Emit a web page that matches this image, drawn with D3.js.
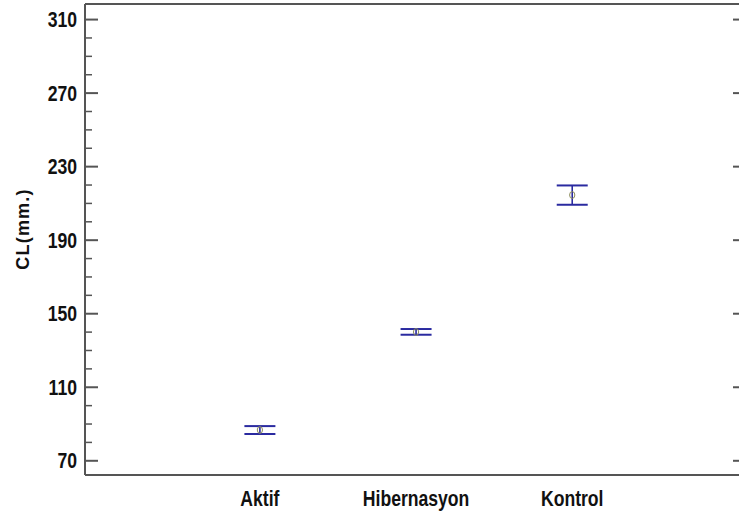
<!DOCTYPE html>
<html>
<head>
<meta charset="utf-8">
<script src="https://cdn.jsdelivr.net/npm/d3@7"></script>
<style>
  html, body { margin: 0; padding: 0; background: #fff; }
  svg { display: block; }
</style>
</head>
<body>
<svg id="chart" width="739" height="517"></svg>
<script>
// Group means with lower / upper interval limits (CL, mm)
const categories = ["Aktif", "Hibernasyon", "Kontrol"];
const means = [86.5, 139.8, 214.3];
const lower = [84.3, 138.3, 209.0];
const upper = [88.6, 141.4, 219.5];
const yTicks = [70, 110, 150, 190, 230, 270, 310];
const yMinorTicks = [80, 90, 100, 120, 130, 140, 160, 170, 180, 200, 210, 220, 240, 250, 260, 280, 290, 300];

const svg = d3.select("#chart");
const plotLeft = 85, plotRight = 744, plotTop = 4, plotBottom = 475;

const x = d3.scaleLinear().domain([-0.12, 4.1]).range([plotLeft, plotRight]);
const y = d3.scaleLinear().domain([62, 318.2]).range([plotBottom, plotTop]);

const frameColor = "#555";
const barColor = "#2a2aa0";
const sans = "'Liberation Sans', Arial, sans-serif";
const squeeze = 0.8; // condensed look for the tick and category labels

// Left axis: inward major and minor ticks
const gLeft = svg.append("g").attr("transform", `translate(${plotLeft},0)`);
gLeft.append("g")
  .call(d3.axisRight(y).tickValues(yMinorTicks).tickSize(7).tickFormat(""))
  .call(g => g.select(".domain").remove())
  .selectAll("line").attr("stroke", frameColor).attr("stroke-width", 1.5);
gLeft.append("g")
  .call(d3.axisRight(y).tickValues(yTicks).tickSize(13).tickFormat(""))
  .call(g => g.select(".domain").remove())
  .selectAll("line").attr("stroke", frameColor).attr("stroke-width", 2);

// Left axis tick labels
svg.append("g").selectAll("text").data(yTicks).join("text")
  .attr("transform", d => `translate(77,${y(d)}) scale(${squeeze},1)`)
  .attr("dy", "0.36em")
  .attr("text-anchor", "end")
  .attr("font-family", sans).attr("font-weight", "bold")
  .attr("font-size", 22).attr("fill", "#111")
  .text(d => d);

// Right axis: inward major ticks
svg.append("g").attr("transform", `translate(${plotRight},0)`)
  .call(d3.axisLeft(y).tickValues(yTicks).tickSize(11).tickFormat(""))
  .call(g => g.select(".domain").remove())
  .selectAll("line").attr("stroke", frameColor).attr("stroke-width", 2);

// Frame
svg.append("line").attr("x1", plotLeft).attr("x2", plotRight).attr("y1", plotTop).attr("y2", plotTop)
  .attr("stroke", frameColor).attr("stroke-width", 2.2);
svg.append("line").attr("x1", plotLeft).attr("x2", plotRight).attr("y1", plotBottom).attr("y2", plotBottom)
  .attr("stroke", frameColor).attr("stroke-width", 2.2);
svg.append("line").attr("x1", plotLeft).attr("x2", plotLeft).attr("y1", plotTop).attr("y2", plotBottom)
  .attr("stroke", frameColor).attr("stroke-width", 2);

// Category labels
svg.append("g").selectAll("text").data(categories).join("text")
  .attr("transform", (d, i) => `translate(${x(i + 1)},506) scale(${squeeze},1)`)
  .attr("text-anchor", "middle")
  .attr("font-family", sans).attr("font-weight", "bold")
  .attr("font-size", 22).attr("fill", "#111")
  .text(d => d);

// Axis title
svg.append("text")
  .attr("transform", "translate(29,229) rotate(-90)")
  .attr("text-anchor", "middle")
  .attr("font-family", sans)
  .attr("font-weight", "bold").attr("font-size", 18)
  .attr("letter-spacing", 1.2).attr("fill", "#111")
  .text("CL(mm.)");

// Interval bars
const capHalf = 15.5;
const groups = svg.append("g").selectAll("g").data(categories).join("g");
groups.append("line")
  .attr("x1", (d, i) => x(i + 1)).attr("x2", (d, i) => x(i + 1))
  .attr("y1", (d, i) => y(upper[i])).attr("y2", (d, i) => y(lower[i]))
  .attr("stroke", barColor).attr("stroke-width", 1.6);
groups.append("line")
  .attr("x1", (d, i) => x(i + 1) - capHalf).attr("x2", (d, i) => x(i + 1) + capHalf)
  .attr("y1", (d, i) => y(upper[i])).attr("y2", (d, i) => y(upper[i]))
  .attr("stroke", barColor).attr("stroke-width", 2);
groups.append("line")
  .attr("x1", (d, i) => x(i + 1) - capHalf).attr("x2", (d, i) => x(i + 1) + capHalf)
  .attr("y1", (d, i) => y(lower[i])).attr("y2", (d, i) => y(lower[i]))
  .attr("stroke", barColor).attr("stroke-width", 2);
// Mean markers
groups.append("ellipse")
  .attr("cx", (d, i) => x(i + 1)).attr("cy", (d, i) => y(means[i]))
  .attr("rx", 2.6).attr("ry", 3.4)
  .attr("fill", "none").attr("stroke", "#8c8c5a").attr("stroke-width", 1);
</script>
</body>
</html>
